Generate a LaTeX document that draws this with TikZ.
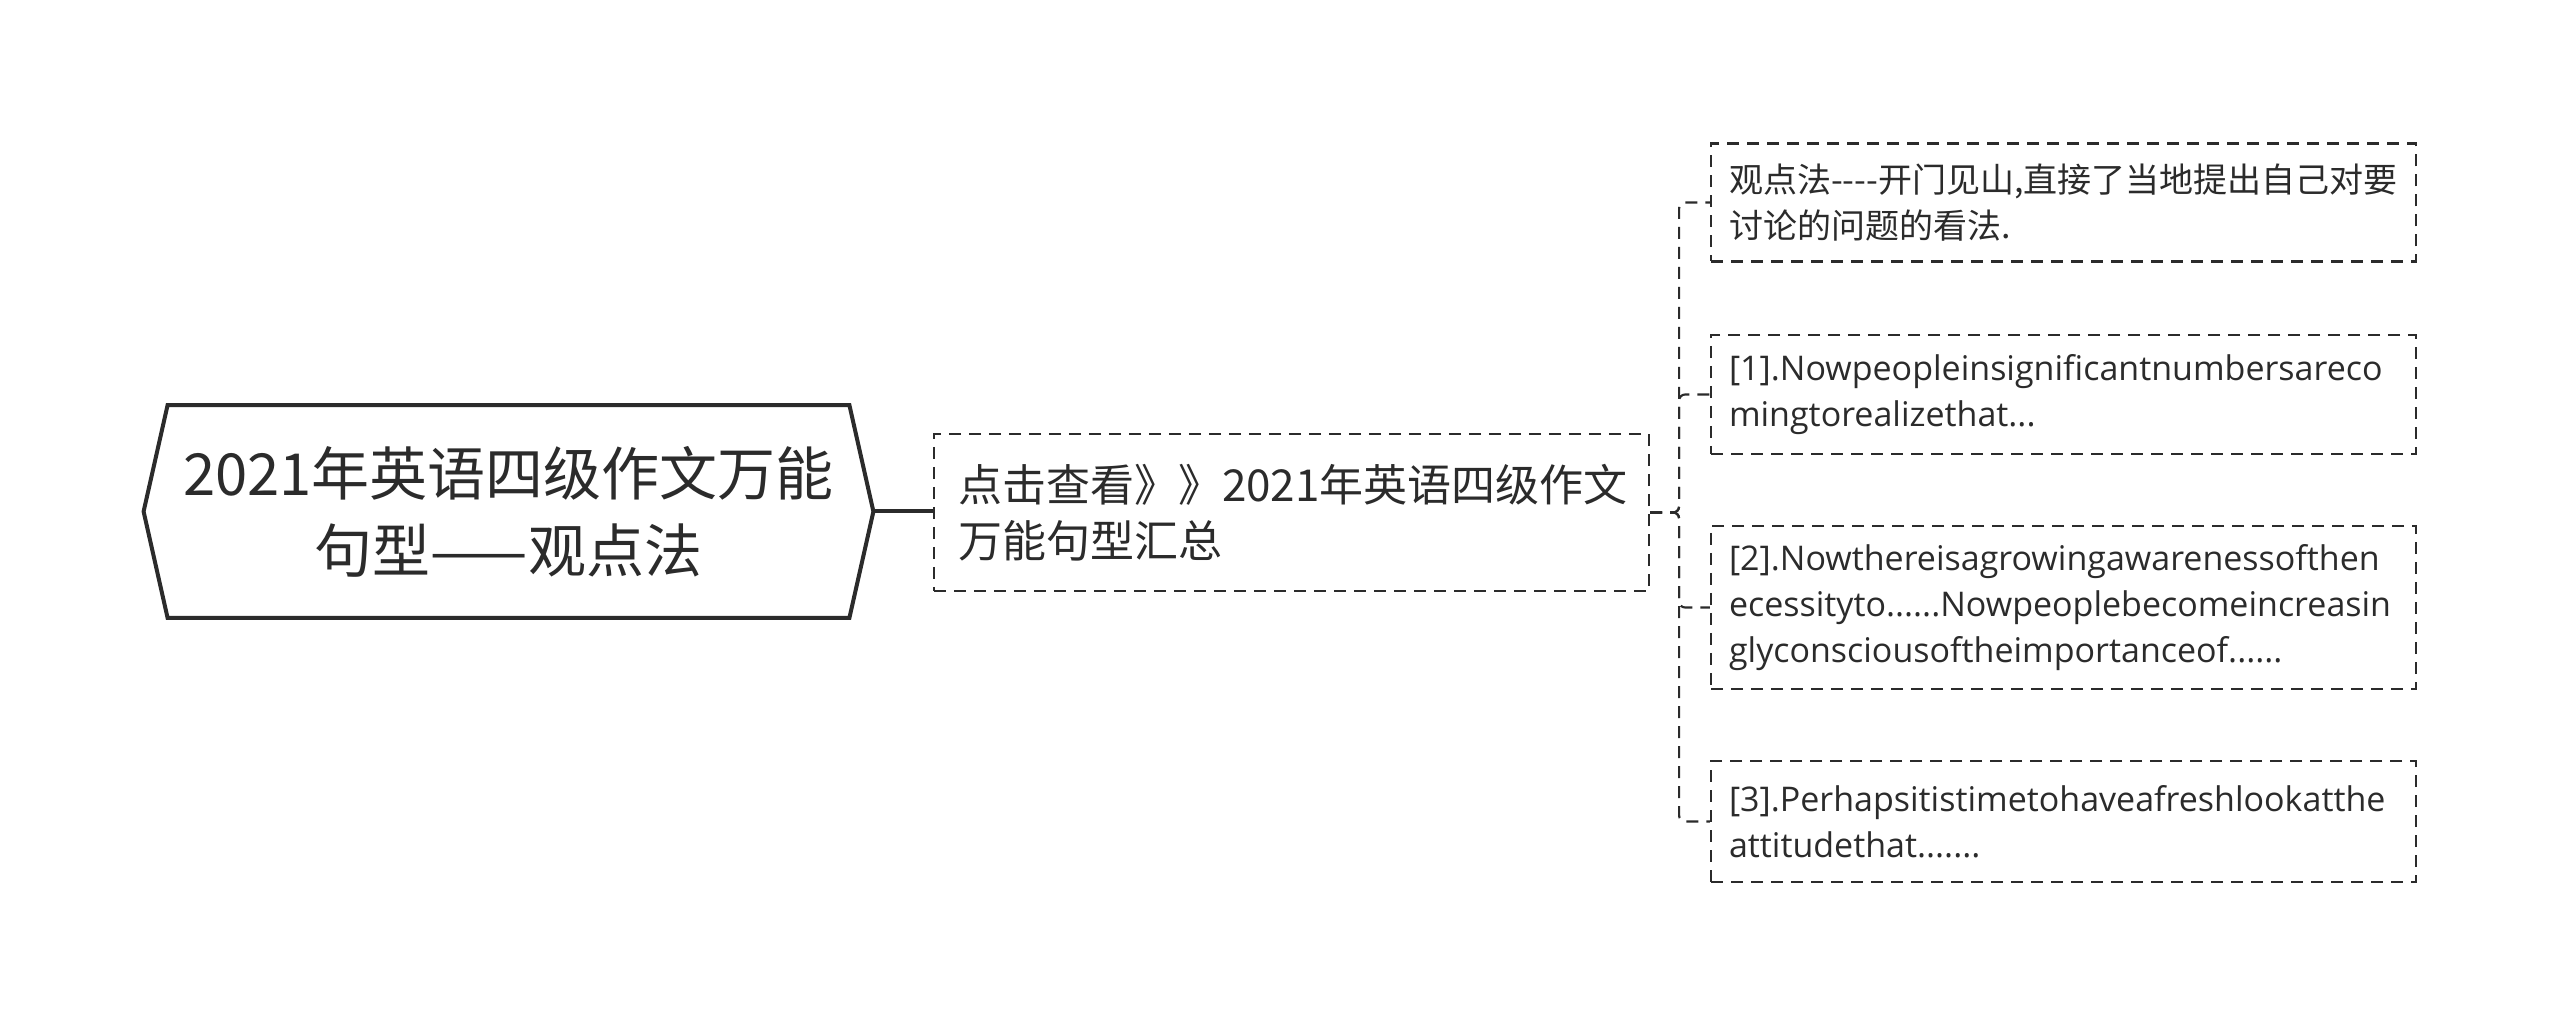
\documentclass[tikz,border=0pt]{standalone}
\usepackage{fontspec}
\setmainfont{Noto Sans CJK SC}
\newfontfamily\latinfont{Open Sans}
\usetikzlibrary{positioning}
\definecolor{inkgray}{HTML}{2B2B2B}
\tikzset{
  rootline/.style={draw=inkgray,line width=2pt,line join=miter},
  midbox/.style={draw=inkgray,dashed,dash pattern=on 6pt off 4pt,line width=1.1pt,text=inkgray,
    minimum width=357.5pt,minimum height=78.5pt,inner xsep=12pt,text width=333.5pt,align=left,
    font=\fontsize{22pt}{27.75pt}\selectfont},
  leafbox/.style={draw=inkgray,dashed,dash pattern=on 6pt off 4pt,line width=1.1pt,text=inkgray,
    minimum width=352.5pt,inner xsep=9pt,text width=334.5pt,align=left,
    font=\fontsize{17pt}{23pt}\selectfont},
  enfont/.style={font=\latinfont\fontsize{17pt}{23pt}\selectfont},
  branch/.style={draw=inkgray,dashed,dash pattern=on 6pt off 4pt,line width=1.1pt,rounded corners=3pt},
}
\begin{document}
\begin{tikzpicture}[x=0.5pt,y=-0.5pt]
\useasboundingbox (0,0) rectangle (2560,1026);
% root
\node[minimum width=340.5pt,minimum height=106pt,inner sep=0pt,align=center,text=inkgray,
  font=\fontsize{29pt}{38.5pt}\selectfont] (root) at (508.5,511.5) {2021年英语四级作文万能\\句型——观点法};
\draw[rootline] (root.north west) -- (root.north east) -- ([xshift=12pt]root.east)
  -- (root.south east) -- (root.south west) -- ([xshift=-12pt]root.west) -- cycle;
% middle
\node[midbox] (mid) at (1291.5,512.5) {点击查看》》2021年英语四级作文\\万能句型汇总};
% leaves
\node[leafbox,minimum height=59pt] (view) at (2063.5,202.5) {观点法-{}-{}-{}-开门见山,直接了当地提出自己对要\\讨论的问题的看法.};
\node[leafbox,enfont,minimum height=59.5pt] (one) at (2063.5,394.5) {[1].Nowpeopleinsignificantnumbersareco\\mingtorealizethat...};
\node[leafbox,enfont,minimum height=81.5pt] (two) at (2063.5,607.5) {[2].Nowthereisagrowingawarenessofthen\\ecessityto......Nowpeoplebecomeincreasin\\glyconsciousoftheimportanceof......};
\node[leafbox,enfont,minimum height=60.5pt] (three) at (2063.5,821.5) {[3].Perhapsitistimetohaveafreshlookatthe\\attitudethat.......};
% connectors
\draw[rootline] ([xshift=12pt]root.east) -- (root.east -| mid.west);
\foreach \leaf in {view,one,two,three}
  \draw[branch] (mid.east) -- ++(14.5pt,0) |- (\leaf.west);
\end{tikzpicture}
\end{document}
